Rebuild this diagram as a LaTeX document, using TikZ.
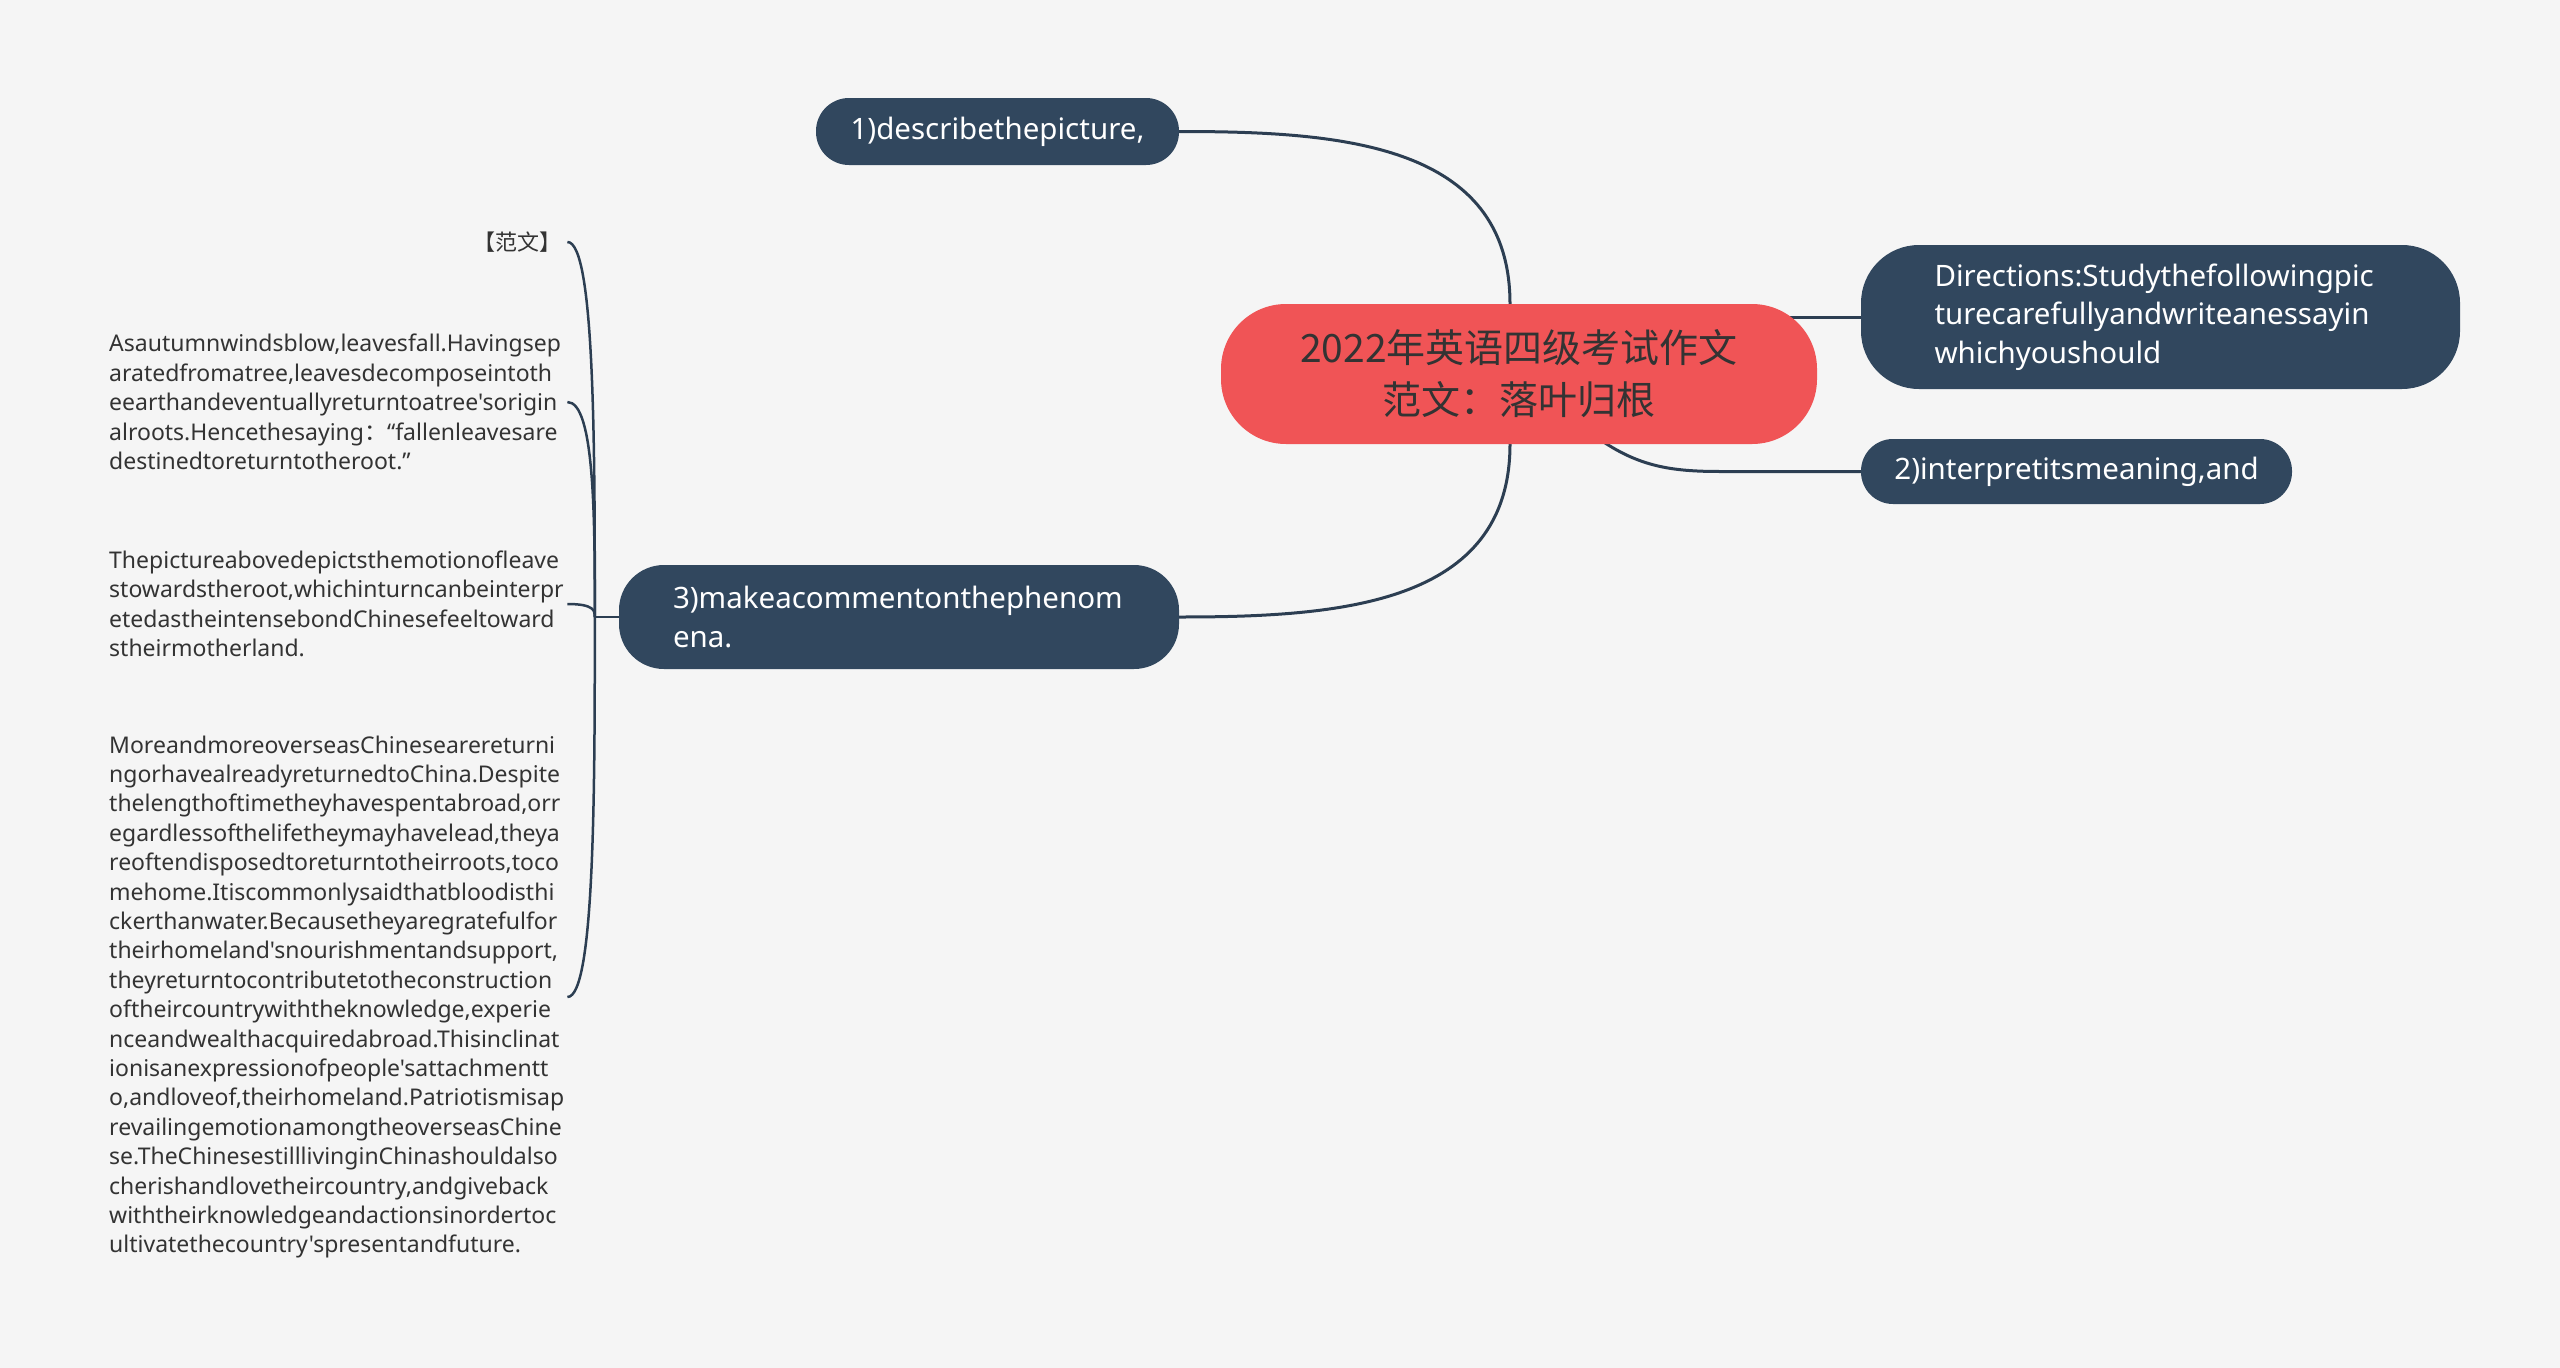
\documentclass[tikz,border=0pt]{standalone}
\usepackage{fontspec}
\newfontfamily\notofont{Noto Sans}
\newfontfamily\cjk{Noto Sans CJK SC}
\usetikzlibrary{calc,backgrounds}
\definecolor{paper}{HTML}{F5F5F5}
\definecolor{rootred}{HTML}{F05456}
\definecolor{navy}{HTML}{31475E}
\definecolor{linkcol}{HTML}{2C3E52}
\definecolor{ink}{HTML}{333333}

\begin{document}
\begin{tikzpicture}[x=1pt,y=1pt,
rootnode/.style={rectangle,rounded corners=65pt,fill=rootred,text=ink,minimum width=596pt,minimum height=140pt,align=center,font=\cjk\fontsize{39}{52}\selectfont},
branchnode/.style={rectangle,fill=navy,text=white,font=\notofont\fontsize{29.5}{38.5}\selectfont},
leafnode/.style={anchor=west,inner xsep=6pt,inner ysep=0pt,text width=452pt,align=left,text=ink,font=\notofont\fontsize{23}{29.4}\selectfont},
link/.style={draw=linkcol,line width=3pt}]

\useasboundingbox (0,0) rectangle (2560,-1368);
\begin{scope}[on background layer]
\fill[paper] (0,0) rectangle (2560,-1368);
\end{scope}

\node[rootnode] (root) at (1519,-374) {2022年英语四级考试作文\\范文：落叶归根};

\node[branchnode,rounded corners=33pt,minimum width=363pt,minimum height=67pt] (describe) at (997.5,-131.5) {1)describethepicture,};
\node[branchnode,rounded corners=58pt,minimum width=599pt,minimum height=144pt,text width=452pt,align=left] (directions) at (2160.5,-317) {Directions:Studythefollowingpic\\turecarefullyandwriteanessayin\\whichyoushould};
\node[branchnode,rounded corners=32pt,minimum width=431pt,minimum height=65pt] (interpret) at (2076.5,-471.5) {2)interpretitsmeaning,and};
\node[branchnode,rounded corners=45pt,minimum width=560pt,minimum height=104pt,text width=452pt,align=left] (comment) at (899,-617) {3)makeacommentonthephenom\\ena.};

\node[leafnode,align=right,font=\cjk\fontsize{22}{27}\selectfont] (fanwen) at (103,-242) {【范文】};
\node[leafnode] (para1) at (103,-402) {Asautumnwindsblow,leavesfall.Havingsep\\aratedfromatree,leavesdecomposeintoth\\eearthandeventuallyreturntoatree'sorigin\\alroots.Hencethesaying{\cjk ：}“fallenleavesare\\destinedtoreturntotheroot.”};
\node[leafnode] (para2) at (103,-604) {Thepictureabovedepictsthemotionofleave\\stowardstheroot,whichinturncanbeinterpr\\etedastheintensebondChinesefeeltoward\\stheirmotherland.};
\node[leafnode] (para3) at (103,-997) {MoreandmoreoverseasChinesearereturni\\ngorhavealreadyreturnedtoChina.Despite\\thelengthoftimetheyhavespentabroad,orr\\egardlessofthelifetheymayhavelead,theya\\reoftendisposedtoreturntotheirroots,toco\\mehome.Itiscommonlysaidthatbloodisthi\\ckerthanwater.Becausetheyaregratefulfor\\theirhomeland'snourishmentandsupport,\\theyreturntocontributetotheconstruction\\oftheircountrywiththeknowledge,experie\\nceandwealthacquiredabroad.Thisinclinat\\ionisanexpressionofpeople'sattachmentt\\o,andloveof,theirhomeland.Patriotismisap\\revailingemotionamongtheoverseasChine\\se.TheChinesestilllivinginChinashouldalso\\cherishandlovetheircountry,andgiveback\\withtheirknowledgeandactionsinordertoc\\ultivatethecountry'spresentandfuture.};

\begin{scope}[on background layer]
\draw[link] ($(root.north)+(-9,0)$) to[out=90,in=0,looseness=1.1] (describe.east);
\draw[link] ($(root.south)+(-9,0)$) to[out=-90,in=0,looseness=1.1] (comment.east);
\draw[link] (directions.west) -- (directions.west -| root.center);
\coordinate (bend2) at ($(interpret.west)+(-140,0)$);
\draw[link] ($(root.south)+(79,6)$) to[out=-35,in=180] (bend2) -- (interpret.west);
\coordinate (joint) at ($(comment.west)+(-24,0)$);
\draw[link,line width=2.5pt] (comment.west) -- (joint);
\foreach \leaf in {fanwen,para1,para2,para3}
  \draw[link,line width=2.5pt] (joint) .. controls ($(joint)!0.45!(joint |- \leaf.east)$) and (joint |- \leaf.east) .. (\leaf.east);
\end{scope}

\end{tikzpicture}
\end{document}
